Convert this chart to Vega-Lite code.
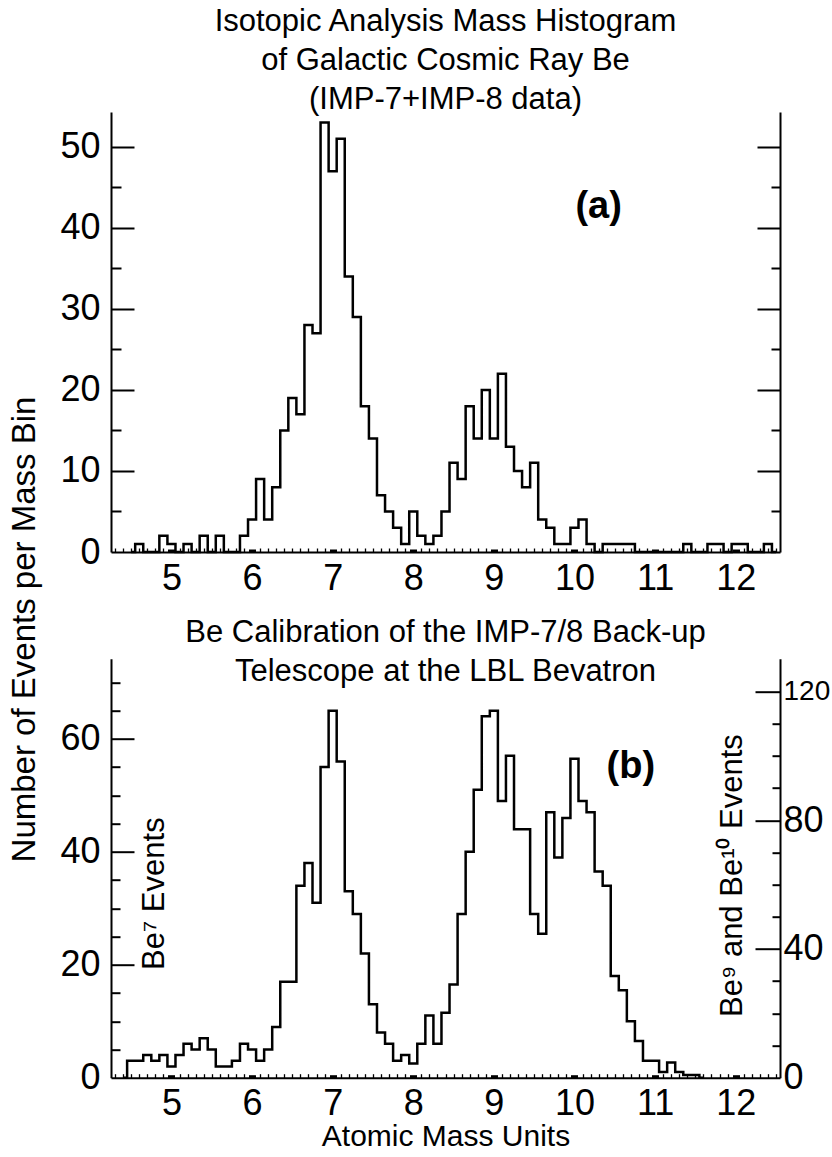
{
  "$schema": "https://vega.github.io/schema/vega-lite/v6.json",
  "background": "white",
  "padding": {"left": 8, "top": 6, "right": 0, "bottom": 0},
  "bounds": "flush",
  "spacing": 106.7,
  "datasets": {
    "a": [
      {"mass": 4.5, "events": 0}, {"mass": 4.6, "events": 1}, {"mass": 4.7, "events": 0}, {"mass": 4.8, "events": 0},
      {"mass": 4.9, "events": 2}, {"mass": 5.0, "events": 1}, {"mass": 5.1, "events": 0}, {"mass": 5.2, "events": 1},
      {"mass": 5.3, "events": 0}, {"mass": 5.4, "events": 2}, {"mass": 5.5, "events": 0}, {"mass": 5.6, "events": 2},
      {"mass": 5.7, "events": 0}, {"mass": 5.8, "events": 0}, {"mass": 5.9, "events": 2}, {"mass": 6.0, "events": 4},
      {"mass": 6.1, "events": 9}, {"mass": 6.2, "events": 4}, {"mass": 6.3, "events": 8}, {"mass": 6.4, "events": 15},
      {"mass": 6.5, "events": 19}, {"mass": 6.6, "events": 17}, {"mass": 6.7, "events": 28}, {"mass": 6.8, "events": 27},
      {"mass": 6.9, "events": 53}, {"mass": 7.0, "events": 47}, {"mass": 7.1, "events": 51}, {"mass": 7.2, "events": 34},
      {"mass": 7.3, "events": 29}, {"mass": 7.4, "events": 18}, {"mass": 7.5, "events": 14}, {"mass": 7.6, "events": 7},
      {"mass": 7.7, "events": 5}, {"mass": 7.8, "events": 3}, {"mass": 7.9, "events": 1}, {"mass": 8.0, "events": 5},
      {"mass": 8.1, "events": 2}, {"mass": 8.2, "events": 1}, {"mass": 8.3, "events": 2}, {"mass": 8.4, "events": 5},
      {"mass": 8.5, "events": 11}, {"mass": 8.6, "events": 9}, {"mass": 8.7, "events": 18}, {"mass": 8.8, "events": 14},
      {"mass": 8.9, "events": 20}, {"mass": 9.0, "events": 14}, {"mass": 9.1, "events": 22}, {"mass": 9.2, "events": 13},
      {"mass": 9.3, "events": 10}, {"mass": 9.4, "events": 8}, {"mass": 9.5, "events": 11}, {"mass": 9.6, "events": 4},
      {"mass": 9.7, "events": 3}, {"mass": 9.8, "events": 1}, {"mass": 9.9, "events": 1}, {"mass": 10.0, "events": 3},
      {"mass": 10.1, "events": 4}, {"mass": 10.2, "events": 1}, {"mass": 10.3, "events": 0}, {"mass": 10.4, "events": 1},
      {"mass": 10.5, "events": 1}, {"mass": 10.6, "events": 1}, {"mass": 10.7, "events": 1}, {"mass": 10.8, "events": 0},
      {"mass": 10.9, "events": 0}, {"mass": 11.0, "events": 0}, {"mass": 11.1, "events": 0}, {"mass": 11.2, "events": 0},
      {"mass": 11.3, "events": 0}, {"mass": 11.4, "events": 1}, {"mass": 11.5, "events": 0}, {"mass": 11.6, "events": 0},
      {"mass": 11.7, "events": 1}, {"mass": 11.8, "events": 1}, {"mass": 11.9, "events": 0}, {"mass": 12.0, "events": 1},
      {"mass": 12.1, "events": 1}, {"mass": 12.2, "events": 0}, {"mass": 12.3, "events": 0}, {"mass": 12.4, "events": 1},
      {"mass": 12.5, "events": 0}
    ],
    "b": [
      {"mass": 4.4, "events": 0}, {"mass": 4.5, "events": 3}, {"mass": 4.6, "events": 3}, {"mass": 4.7, "events": 4},
      {"mass": 4.8, "events": 3}, {"mass": 4.9, "events": 4}, {"mass": 5.0, "events": 2}, {"mass": 5.1, "events": 4},
      {"mass": 5.2, "events": 6}, {"mass": 5.3, "events": 5}, {"mass": 5.4, "events": 7}, {"mass": 5.5, "events": 5},
      {"mass": 5.6, "events": 2}, {"mass": 5.7, "events": 2}, {"mass": 5.8, "events": 3}, {"mass": 5.9, "events": 6},
      {"mass": 6.0, "events": 5}, {"mass": 6.1, "events": 3}, {"mass": 6.2, "events": 5}, {"mass": 6.3, "events": 9},
      {"mass": 6.4, "events": 17}, {"mass": 6.5, "events": 17}, {"mass": 6.6, "events": 34}, {"mass": 6.7, "events": 38},
      {"mass": 6.8, "events": 31}, {"mass": 6.9, "events": 55}, {"mass": 7.0, "events": 65}, {"mass": 7.1, "events": 56},
      {"mass": 7.2, "events": 33}, {"mass": 7.3, "events": 29}, {"mass": 7.4, "events": 22}, {"mass": 7.5, "events": 13},
      {"mass": 7.6, "events": 8}, {"mass": 7.7, "events": 6}, {"mass": 7.8, "events": 3}, {"mass": 7.9, "events": 4},
      {"mass": 8.0, "events": 2.5}, {"mass": 8.1, "events": 6}, {"mass": 8.2, "events": 11}, {"mass": 8.3, "events": 6},
      {"mass": 8.4, "events": 11.5}, {"mass": 8.5, "events": 16.5}, {"mass": 8.6, "events": 29}, {"mass": 8.7, "events": 40},
      {"mass": 8.8, "events": 51}, {"mass": 8.9, "events": 64}, {"mass": 9.0, "events": 65}, {"mass": 9.1, "events": 49},
      {"mass": 9.2, "events": 57}, {"mass": 9.3, "events": 44}, {"mass": 9.4, "events": 44}, {"mass": 9.5, "events": 29},
      {"mass": 9.6, "events": 25.5}, {"mass": 9.7, "events": 47}, {"mass": 9.8, "events": 39}, {"mass": 9.9, "events": 46},
      {"mass": 10.0, "events": 56.5}, {"mass": 10.1, "events": 49}, {"mass": 10.2, "events": 47}, {"mass": 10.3, "events": 36.5},
      {"mass": 10.4, "events": 34}, {"mass": 10.5, "events": 18}, {"mass": 10.6, "events": 15.5}, {"mass": 10.7, "events": 10},
      {"mass": 10.8, "events": 6.5}, {"mass": 10.9, "events": 3}, {"mass": 11.0, "events": 3}, {"mass": 11.1, "events": 1},
      {"mass": 11.2, "events": 2.7}, {"mass": 11.3, "events": 1}, {"mass": 11.4, "events": 0.5}, {"mass": 11.5, "events": 0.5},
      {"mass": 11.6, "events": 0}
    ],
    "labels": [{"note": "label"}]
  },
  "vconcat": [
    {
      "width": 669,
      "height": 440,
      "data": {"name": "a"},
      "title": {
        "text": ["Isotopic Analysis Mass Histogram", "of Galactic Cosmic Ray Be", "(IMP-7+IMP-8 data)"],
        "frame": "group", "anchor": "middle", "baseline": "bottom", "offset": -35, "lineHeight": 39
      },
      "resolve": {"axis": {"x": "independent", "y": "independent"}},
      "layer": [
        {
          "mark": {"type": "line", "interpolate": "step", "color": "black", "strokeWidth": 2.5},
          "encoding": {
            "x": {"field": "mass", "type": "quantitative", "scale": {"domain": [4.25, 12.55], "nice": false, "zero": false},
              "axis": {"orient": "bottom", "values": [5, 6, 7, 8, 9, 10, 11, 12], "ticks": false, "labelPadding": 9, "title": null}},
            "y": {"field": "events", "type": "quantitative", "scale": {"domain": [0, 54.3], "nice": false, "zero": false},
              "axis": {"orient": "left", "values": [0, 10, 20, 30, 40, 50], "ticks": false, "labelPadding": 11,
                "title": "Number of Events per Mass Bin", "titleFontSize": 33, "titleX": -87, "titleY": 517, "titleAngle": -90, "titleAlign": "center", "titleBaseline": "middle"}}
          }
        },
        {
          "mark": {"type": "line", "opacity": 0},
          "encoding": {
            "x": {"field": "mass", "type": "quantitative", "scale": {"domain": [4.25, 12.55], "nice": false, "zero": false},
              "axis": {"orient": "top", "offset": -440, "values": [4.3, 4.4, 4.5, 4.6, 4.7, 4.8, 4.9, 5.1, 5.2, 5.3, 5.4, 5.5, 5.6, 5.7, 5.8, 5.9, 6.1, 6.2, 6.3, 6.4, 6.5, 6.6, 6.7, 6.8, 6.9, 7.1, 7.2, 7.3, 7.4, 7.5, 7.6, 7.7, 7.8, 7.9, 8.1, 8.2, 8.3, 8.4, 8.5, 8.6, 8.7, 8.8, 8.9, 9.1, 9.2, 9.3, 9.4, 9.5, 9.6, 9.7, 9.8, 9.9, 10.1, 10.2, 10.3, 10.4, 10.5, 10.6, 10.7, 10.8, 10.9, 11.1, 11.2, 11.3, 11.4, 11.5, 11.6, 11.7, 11.8, 11.9, 12.1, 12.2, 12.3, 12.4, 12.5],
                "tickSize": 4, "tickWidth": 1.3, "labels": false, "domain": false, "title": null}},
            "y": {"field": "events", "type": "quantitative", "scale": {"domain": [0, 54.3], "nice": false, "zero": false},
              "axis": {"orient": "right", "offset": -669, "values": [10, 20, 30, 40, 50], "tickSize": 23, "labels": false, "domain": false, "title": null}}
          }
        },
        {
          "mark": {"type": "line", "opacity": 0},
          "encoding": {
            "x": {"field": "mass", "type": "quantitative", "scale": {"domain": [4.25, 12.55], "nice": false, "zero": false},
              "axis": {"orient": "top", "offset": -440, "values": [5, 6, 7, 8, 9, 10, 11, 12], "tickSize": 3, "tickWidth": 7, "tickCap": "butt", "labels": false, "domain": false, "title": null}},
            "y": {"field": "events", "type": "quantitative", "scale": {"domain": [0, 54.3], "nice": false, "zero": false},
              "axis": {"orient": "right", "offset": -669, "values": [5, 15, 25, 35, 45], "tickSize": 10, "labels": false, "domain": false, "title": null}}
          }
        },
        {
          "mark": {"type": "line", "opacity": 0},
          "encoding": {
            "x": {"field": "mass", "type": "quantitative", "scale": {"domain": [4.25, 12.55], "nice": false, "zero": false}, "axis": null},
            "y": {"field": "events", "type": "quantitative", "scale": {"domain": [0, 54.3], "nice": false, "zero": false},
              "axis": {"orient": "left", "offset": -669, "values": [10, 20, 30, 40, 50], "tickSize": 23, "labels": false, "domain": true, "title": null}}
          }
        },
        {
          "mark": {"type": "line", "opacity": 0},
          "encoding": {
            "x": {"field": "mass", "type": "quantitative", "scale": {"domain": [4.25, 12.55], "nice": false, "zero": false}, "axis": null},
            "y": {"field": "events", "type": "quantitative", "scale": {"domain": [0, 54.3], "nice": false, "zero": false},
              "axis": {"orient": "left", "offset": -669, "values": [5, 15, 25, 35, 45], "tickSize": 9, "labels": false, "domain": false, "title": null}}
          }
        },
        {
          "data": {"name": "labels"},
          "mark": {"type": "text", "text": "(a)", "fontSize": 38, "fontWeight": "bold", "fill": "black", "font": "Liberation Sans"},
          "encoding": {
            "x": {"datum": 10.3, "type": "quantitative", "scale": {"domain": [4.25, 12.55], "nice": false, "zero": false}, "axis": null},
            "y": {"datum": 42.6, "type": "quantitative", "scale": {"domain": [0, 54.3], "nice": false, "zero": false}, "axis": null}
          }
        }
      ]
    },
    {
      "width": 669,
      "height": 419,
      "data": {"name": "b"},
      "title": {
        "text": ["Be Calibration of the IMP-7/8 Back-up", "Telescope at the LBL Bevatron"],
        "frame": "group", "anchor": "middle", "baseline": "bottom", "offset": -60, "lineHeight": 39
      },
      "resolve": {"axis": {"x": "independent", "y": "independent"}},
      "layer": [
        {
          "mark": {"type": "line", "interpolate": "step", "color": "black", "strokeWidth": 2.5},
          "encoding": {
            "x": {"field": "mass", "type": "quantitative", "scale": {"domain": [4.25, 12.55], "nice": false, "zero": false},
              "axis": {"orient": "bottom", "values": [5, 6, 7, 8, 9, 10, 11, 12], "ticks": false, "labelPadding": 9, "title": "Atomic Mass Units", "titleFontSize": 30, "titlePadding": 0}},
            "y": {"field": "events", "type": "quantitative", "scale": {"domain": [0, 74.2], "nice": false, "zero": false},
              "axis": {"orient": "left", "values": [0, 20, 40, 60], "ticks": false, "labelPadding": 11, "title": null}}
          }
        },
        {
          "mark": {"type": "line", "opacity": 0},
          "encoding": {
            "x": {"field": "mass", "type": "quantitative", "scale": {"domain": [4.25, 12.55], "nice": false, "zero": false},
              "axis": {"orient": "top", "offset": -419, "values": [4.3, 4.4, 4.5, 4.6, 4.7, 4.8, 4.9, 5.1, 5.2, 5.3, 5.4, 5.5, 5.6, 5.7, 5.8, 5.9, 6.1, 6.2, 6.3, 6.4, 6.5, 6.6, 6.7, 6.8, 6.9, 7.1, 7.2, 7.3, 7.4, 7.5, 7.6, 7.7, 7.8, 7.9, 8.1, 8.2, 8.3, 8.4, 8.5, 8.6, 8.7, 8.8, 8.9, 9.1, 9.2, 9.3, 9.4, 9.5, 9.6, 9.7, 9.8, 9.9, 10.1, 10.2, 10.3, 10.4, 10.5, 10.6, 10.7, 10.8, 10.9, 11.1, 11.2, 11.3, 11.4, 11.5, 11.6, 11.7, 11.8, 11.9, 12.1, 12.2, 12.3, 12.4, 12.5],
                "tickSize": 4, "tickWidth": 1.3, "labels": false, "domain": false, "title": null}},
            "y": {"field": "events", "type": "quantitative", "scale": {"domain": [0, 74.2], "nice": false, "zero": false},
              "axis": {"orient": "right", "offset": -669, "values": [20, 40, 60], "tickSize": 23, "labels": false, "domain": false, "title": null}}
          }
        },
        {
          "mark": {"type": "line", "opacity": 0},
          "encoding": {
            "x": {"field": "mass", "type": "quantitative", "scale": {"domain": [4.25, 12.55], "nice": false, "zero": false},
              "axis": {"orient": "top", "offset": -419, "values": [5, 6, 7, 8, 9, 10, 11, 12], "tickSize": 3, "tickWidth": 7, "tickCap": "butt", "labels": false, "domain": false, "title": null}},
            "y": {"field": "events", "type": "quantitative", "scale": {"domain": [0, 74.2], "nice": false, "zero": false},
              "axis": {"orient": "right", "offset": -669, "values": [5, 10, 15, 25, 30, 35, 45, 50, 55, 65, 70], "tickSize": 9, "labels": false, "domain": false, "title": null}}
          }
        },
        {
          "mark": {"type": "line", "opacity": 0},
          "encoding": {
            "x": {"field": "mass", "type": "quantitative", "scale": {"domain": [4.25, 12.55], "nice": false, "zero": false}, "axis": null},
            "y": {"field": "events", "type": "quantitative", "scale": {"domain": [0, 74.2], "nice": false, "zero": false},
              "axis": {"orient": "right", "values": [0, 22.796, 45.592, 68.388], "labelExpr": "format(datum.value * 1.7547, '.0f')",
                "labelFontSize": {"condition": {"test": "datum.value > 60", "value": 28}, "value": 36},
                "ticks": false, "labelPadding": 3, "labelAlign": "left", "domain": true, "title": null}}
          }
        },
        {
          "mark": {"type": "line", "opacity": 0},
          "encoding": {
            "x": {"field": "mass", "type": "quantitative", "scale": {"domain": [4.25, 12.55], "nice": false, "zero": false}, "axis": null},
            "y": {"field": "events", "type": "quantitative", "scale": {"domain": [0, 74.2], "nice": false, "zero": false},
              "axis": {"orient": "left", "offset": -669, "values": [22.796, 45.592, 68.388], "tickSize": 25, "labels": false, "domain": false, "title": null}}
          }
        },
        {
          "mark": {"type": "line", "opacity": 0},
          "encoding": {
            "x": {"field": "mass", "type": "quantitative", "scale": {"domain": [4.25, 12.55], "nice": false, "zero": false}, "axis": null},
            "y": {"field": "events", "type": "quantitative", "scale": {"domain": [0, 74.2], "nice": false, "zero": false},
              "axis": {"orient": "left", "offset": -669, "values": [5.699, 11.398, 17.097, 28.495, 34.194, 39.893, 51.291, 56.99, 62.689], "tickSize": 8, "labels": false, "domain": false, "title": null}}
          }
        },
        {
          "data": {"name": "labels"},
          "mark": {"type": "text", "text": "(b)", "fontSize": 38, "fontWeight": "bold", "fill": "black", "font": "Liberation Sans"},
          "encoding": {
            "x": {"datum": 10.7, "type": "quantitative", "scale": {"domain": [4.25, 12.55], "nice": false, "zero": false}, "axis": null},
            "y": {"datum": 55.1, "type": "quantitative", "scale": {"domain": [0, 74.2], "nice": false, "zero": false}, "axis": null}
          }
        },
        {
          "data": {"name": "labels"},
          "mark": {"type": "text", "text": "Be⁷ Events", "angle": 270, "fontSize": 31, "fill": "black", "font": "Liberation Sans"},
          "encoding": {
            "x": {"datum": 4.8, "type": "quantitative", "scale": {"domain": [4.25, 12.55], "nice": false, "zero": false}, "axis": null},
            "y": {"datum": 32.6, "type": "quantitative", "scale": {"domain": [0, 74.2], "nice": false, "zero": false}, "axis": null}
          }
        },
        {
          "data": {"name": "labels"},
          "mark": {"type": "text", "text": "Be⁹ and Be¹⁰ Events", "angle": 270, "fontSize": 31, "fill": "black", "font": "Liberation Sans"},
          "encoding": {
            "x": {"datum": 11.97, "type": "quantitative", "scale": {"domain": [4.25, 12.55], "nice": false, "zero": false}, "axis": null},
            "y": {"datum": 35.8, "type": "quantitative", "scale": {"domain": [0, 74.2], "nice": false, "zero": false}, "axis": null}
          }
        }
      ]
    }
  ],
  "config": {
    "view": {"stroke": null},
    "font": "Liberation Sans",
    "axis": {
      "grid": false, "domainColor": "black", "domainWidth": 2, "tickColor": "black", "tickWidth": 2,
      "labelColor": "black", "labelFont": "Liberation Sans",
      "labelFontSize": 36, "labelOverlap": false, "labelFlush": false, "labelBound": false,
      "titleFont": "Liberation Sans",
      "titleFontSize": 33, "titleFontWeight": "normal", "titleColor": "black"
    },
    "title": {
      "font": "Liberation Sans",
      "fontSize": 31, "fontWeight": "normal", "color": "black"
    }
  }
}
